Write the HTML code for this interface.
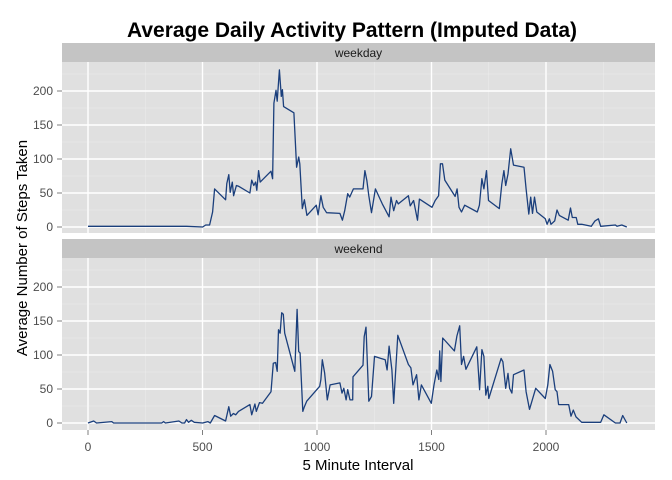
<!DOCTYPE html>
<html><head><meta charset="utf-8"><style>
body{margin:0;background:#fff}
svg{display:block;font-family:"Liberation Sans",sans-serif}
</style></head><body>
<svg id="chart" width="672" height="480"></svg>
<script>
const intervalsWeekday=[0,129,430,501,514,531,544,553,601,606,615,621,630,636,648,657,707,715,724,732,737,745,752,799,806,812,821,826,836,844,849,854,899,911,920,925,936,945,956,997,1005,1017,1027,1042,1100,1111,1121,1134,1143,1159,1201,1209,1218,1226,1238,1255,1285,1315,1323,1335,1347,1355,1399,1407,1422,1439,1447,1502,1516,1531,1539,1548,1558,1603,1612,1620,1631,1645,1700,1709,1720,1729,1740,1749,1796,1807,1816,1824,1834,1846,1858,1904,1913,1925,1933,1941,1950,1960,1997,2005,2015,2022,2038,2048,2058,2097,2107,2115,2132,2139,2156,2198,2214,2229,2239,2303,2310,2331,2353];
const stepsWeekday=[1,1,1,0,3,3,22,56,40,64,77,51,66,46,61,60,50,69,61,66,54,83,66,82,71,182,201,185,231,192,202,177,168,88,103,93,27,40,17,32,18,46,29,21,20,10,24,49,44,56,56,83,68,46,21,56,34,15,44,24,39,34,46,31,39,10,41,29,39,46,93,93,69,45,56,29,22,32,22,32,71,56,83,39,27,63,83,61,78,115,91,88,56,19,44,20,44,22,12,4,12,4,9,25,17,10,28,14,14,4,4,1,9,12,1,3,1,3,0];
const intervalsWeekend=[0,25,37,104,112,322,330,338,397,410,422,430,439,451,464,501,523,534,553,601,615,623,635,645,657,707,715,729,735,749,762,799,809,819,826,832,839,846,853,859,903,913,920,926,938,945,955,1012,1017,1023,1033,1045,1057,1100,1109,1117,1127,1134,1144,1156,1157,1201,1206,1214,1226,1238,1251,1298,1306,1315,1327,1335,1353,1399,1410,1419,1435,1445,1456,1499,1511,1523,1532,1536,1541,1549,1600,1611,1623,1631,1640,1650,1698,1710,1720,1729,1737,1746,1750,1804,1812,1824,1834,1841,1851,1858,1904,1913,1928,1955,1997,2008,2017,2029,2040,2048,2055,2099,2109,2119,2131,2156,2239,2253,2303,2323,2335,2353];
const stepsWeekend=[0,3,0,2,0,0,2,0,3,0,0,5,1,4,1,0,2,0,11,3,24,10,14,12,17,27,12,28,17,30,29,46,88,89,76,137,132,162,160,132,76,167,105,103,17,24,32,54,64,93,74,34,56,59,44,51,34,49,34,34,68,85,127,141,32,39,98,93,78,113,78,29,129,86,81,56,71,34,56,29,56,78,64,106,61,125,106,128,143,86,98,79,112,49,108,98,41,54,36,95,90,51,73,51,44,71,78,46,20,51,36,56,86,76,49,46,27,27,10,19,9,1,1,12,0,0,11,0];
const xTicks=[0,500,1000,1500,2000];
const yTicks=[0,50,100,150,200];
const facetNames=["weekday","weekend"];

const NS="http://www.w3.org/2000/svg";
const svg=document.getElementById('chart');
function mk(tag,attrs,parent){const e=document.createElementNS(NS,tag);for(const k in attrs)e.setAttribute(k,attrs[k]);(parent||svg).appendChild(e);return e;}
const PL=62,PR=655;
const xs=v=>88+v*0.229;
const panels=[{top:62,bottom:233,strip:43,zero:227},{top:258,bottom:430,strip:239,zero:423}];
const ysFor=p=>v=>p.zero-v*0.68;

const title=mk('text',{x:352,y:37,'text-anchor':'middle','font-size':21,'font-weight':'bold',fill:'#000'});
title.textContent='Average Daily Activity Pattern (Imputed Data)';



const series=[[intervalsWeekday,stepsWeekday],[intervalsWeekend,stepsWeekend]];
panels.forEach((p,i)=>{
  const ys=ysFor(p);
  const g=mk('g',{});
  
  
  const strip=mk('rect',{x:PL,y:p.strip,width:PR-PL,height:p.top-p.strip,fill:'#c4c4c4'},g);
  
  
  const st=mk('text',{x:(PL+PR)/2,y:p.strip+14,'text-anchor':'middle','font-size':12,fill:'#1a1a1a'},g);
  st.textContent=facetNames[i];
  
  
  mk('rect',{x:PL,y:p.top,width:PR-PL,height:p.bottom-p.top,fill:'#e0e0e0'},g);
  for(let v=-250;v<=2500;v+=500){const x=xs(v);if(x>PL&&x<PR)mk('line',{x1:x,x2:x,y1:p.top,y2:p.bottom,stroke:'#ececec','stroke-width':0.6},g);}
  for(let v=25;v<=250;v+=50){const y=ys(v);if(y>p.top&&y<p.bottom)mk('line',{x1:PL,x2:PR,y1:y,y2:y,stroke:'#ececec','stroke-width':0.6},g);}
  xTicks.forEach(v=>mk('line',{x1:xs(v),x2:xs(v),y1:p.top,y2:p.bottom,stroke:'#fff','stroke-width':1.4},g));
  yTicks.forEach(v=>{
    const y=ys(v);
    mk('line',{x1:PL,x2:PR,y1:y,y2:y,stroke:'#fff','stroke-width':1.4},g);
    mk('line',{x1:57,x2:PL,y1:y,y2:y,stroke:'#7f7f7f','stroke-width':1},g);
    const t=mk('text',{x:53,y:y+4,'text-anchor':'end','font-size':12,fill:'#4d4d4d'},g);
    t.textContent=v;
    
    
  });
  const [xv,yv]=series[i];
  const d=xv.map((v,k)=>(k?'L':'M')+xs(v).toFixed(1)+','+ys(yv[k]).toFixed(1)).join('');
  const path=mk('path',{d:d,fill:'none',stroke:'#1b3f7c','stroke-width':1.3,'stroke-linejoin':'round'},g);
  
  
});
xTicks.forEach(v=>{
  mk('line',{x1:xs(v),x2:xs(v),y1:430,y2:435,stroke:'#7f7f7f','stroke-width':1});
  const t=mk('text',{x:xs(v),y:451,'text-anchor':'middle','font-size':12,fill:'#4d4d4d'});
  t.textContent=v;
  
  
});
const xt=mk('text',{x:358,y:470,'text-anchor':'middle','font-size':15,fill:'#000'});
xt.textContent='5 Minute Interval';


const yt=mk('text',{x:0,y:0,'text-anchor':'middle','font-size':15,fill:'#000',transform:'translate(27,248) rotate(-90)'});
yt.textContent='Average Number of Steps Taken';


</script>
</body></html>
